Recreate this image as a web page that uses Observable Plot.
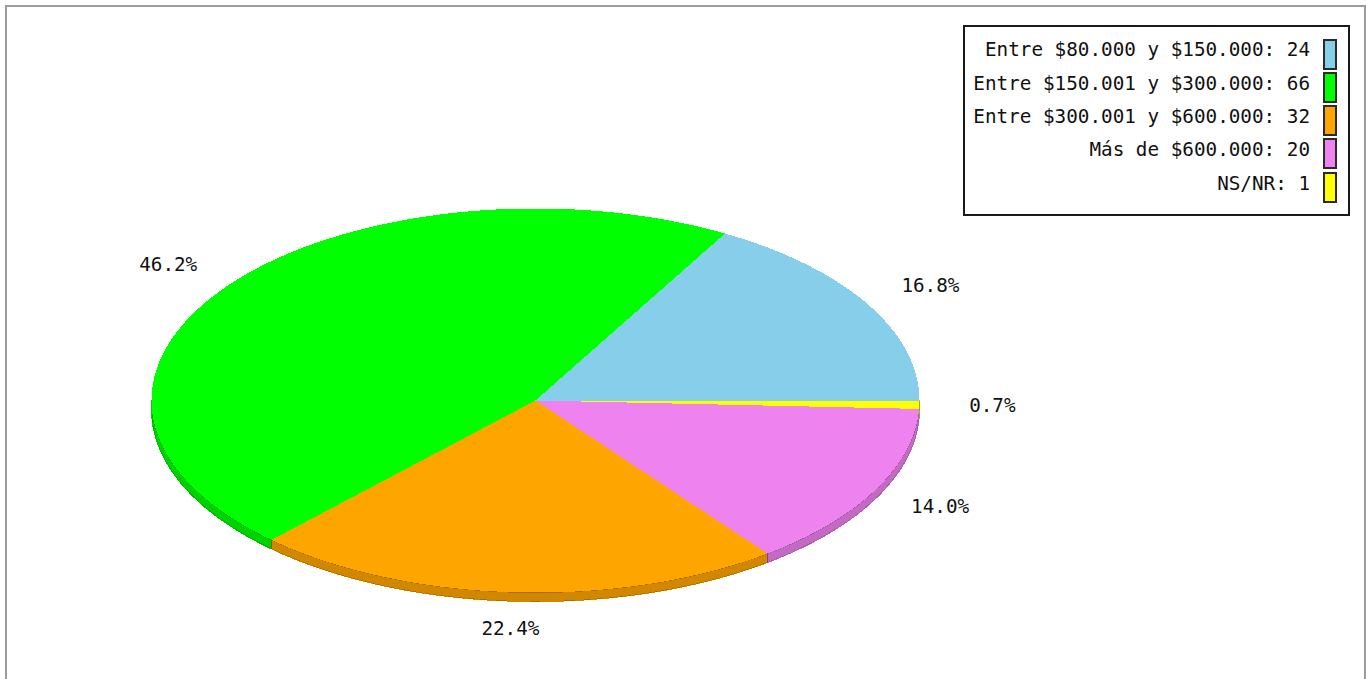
<!DOCTYPE html>
<html>
<head>
<meta charset="utf-8">
<script src="https://cdn.jsdelivr.net/npm/d3@7"></script>
<script src="https://cdn.jsdelivr.net/npm/@observablehq/plot@0.6"></script>
<style>
  html, body { margin: 0; padding: 0; background: #fff; overflow: hidden; width: 1366px; height: 679px; }
  #chart { position: absolute; left: 0; top: 0; }
  #frame { position: absolute; left: 5px; top: 5px; width: 1357px; height: 700px; border: 2px solid #9c9c9c; pointer-events: none; }
  #legend { position: absolute; left: 963px; top: 25px; width: 387px; height: 191px; box-sizing: border-box; border: 2px solid #1a1a1a; background: #fff; }
  .lt { position: absolute; font-family: "DejaVu Sans Mono", monospace; font-size: 19.3px; line-height: 19.3px; white-space: pre; color: #111; text-align: right; }
  .sw { position: absolute; width: 14px; height: 31px; box-sizing: border-box; border: 2px solid #2a2a2a; }
</style>
</head>
<body>
<div id="chart"></div>
<div id="legend"></div>
<div id="frame"></div>
<script>
// ---- data ----
const categories = [
  "Entre $80.000 y $150.000",
  "Entre $150.001 y $300.000",
  "Entre $300.001 y $600.000",
  "Más de $600.000",
  "NS/NR"
];
const counts = [24, 66, 32, 20, 1];
const colors = ["#87ceeb", "#00ff00", "#ffa500", "#ee82ee", "#ffff00"];

// ---- derived geometry (unit ellipse, CCW from east) ----
const total = d3.sum(counts);
const depth = 0.047;       // thickness of the pie in y-units
const labelR = 1.19;       // label radius factor
const step = Math.PI / 720;

let acc = 0;
const slices = categories.map((c, i) => {
  const a0 = acc / total * 2 * Math.PI;
  acc += counts[i];
  const a1 = acc / total * 2 * Math.PI;
  return {cat: c, value: counts[i], a0, a1, pct: (counts[i] / total * 100).toFixed(1) + "%"};
});

function arcPts(a0, a1) {
  const n = Math.max(2, Math.ceil((a1 - a0) / step));
  return d3.range(n + 1).map(k => a0 + (a1 - a0) * k / n);
}

const topPts = [];
slices.forEach((s, i) => {
  topPts.push({id: i, cat: s.cat, x: 0, y: 0});
  for (const a of arcPts(s.a0, s.a1)) topPts.push({id: i, cat: s.cat, x: Math.cos(a), y: Math.sin(a)});
});

const sidePts = [];
slices.forEach((s, i) => {
  const b0 = Math.max(s.a0, Math.PI), b1 = Math.min(s.a1, 2 * Math.PI);
  if (b1 <= b0) return;
  const as = arcPts(b0, b1);
  for (const a of as) sidePts.push({id: i, cat: s.cat, x: Math.cos(a), y: Math.sin(a)});
  for (const a of as.slice().reverse()) sidePts.push({id: i, cat: s.cat, x: Math.cos(a), y: Math.sin(a) - depth});
});

const labels = slices.map(s => {
  const m = (s.a0 + s.a1) / 2;
  return {x: labelR * Math.cos(m), y: labelR * Math.sin(m), text: s.pct};
});

const chart = Plot.plot({
  width: 1366,
  height: 679,
  margin: 0,
  x: {domain: [-1, 1], range: [151, 919], axis: null},
  y: {domain: [-1, 1], range: [592, 208], axis: null},
  color: {domain: categories, range: colors, legend: false},
  style: {background: "transparent"},
  marks: [
    Plot.line(sidePts, {x: "x", y: "y", z: "id", fill: "cat", stroke: "cat", strokeWidth: 1, curve: "linear-closed", shapeRendering: "crispEdges"}),
    Plot.line(sidePts, {x: "x", y: "y", z: "id", fill: "black", fillOpacity: 0.18, stroke: "black", strokeOpacity: 0.18, strokeWidth: 1, curve: "linear-closed", shapeRendering: "crispEdges"}),
    Plot.line(topPts, {x: "x", y: "y", z: "id", fill: "cat", stroke: "none", curve: "linear-closed", shapeRendering: "crispEdges"}),
    Plot.text(labels, {x: "x", y: "y", text: "text", fontFamily: "DejaVu Sans Mono", fontSize: 19.3, fill: "#111"})
  ]
});
document.getElementById("chart").appendChild(chart);

// ---- legend ----
const legend = document.getElementById("legend");
const L = {left: 963, top: 25};
categories.forEach((c, i) => {
  const t = document.createElement("div");
  t.className = "lt";
  t.textContent = c + ": " + counts[i];
  t.style.right = (1348 - 1310) + "px";
  t.style.top = (40.4 - L.top - 2 + i * 33.3) + "px";
  legend.appendChild(t);
  const s = document.createElement("div");
  s.className = "sw";
  s.style.background = colors[i];
  s.style.left = (1323 - L.left - 2) + "px";
  s.style.top = (38.5 - L.top - 2 + i * 33.3) + "px";
  legend.appendChild(s);
});
</script>
</body>
</html>
